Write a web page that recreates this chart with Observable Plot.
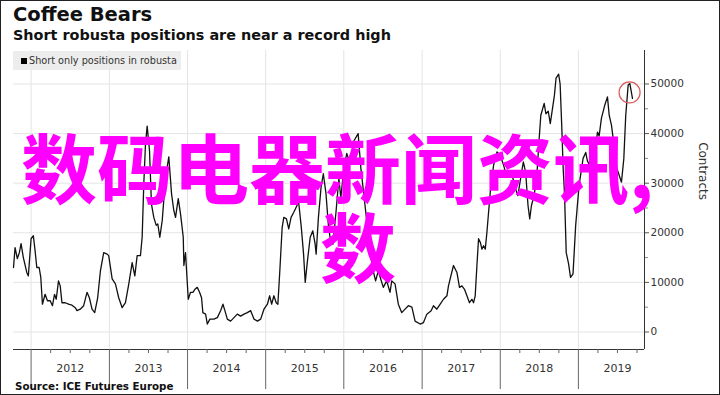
<!DOCTYPE html>
<html><head><meta charset="utf-8">
<script src="https://cdn.jsdelivr.net/npm/d3@7"></script>
<script src="https://cdn.jsdelivr.net/npm/@observablehq/plot@0.6"></script>
<style>
body{margin:0;background:#fff}
#wrap{position:relative;width:720px;height:395px;overflow:hidden;background:#fff;font-family:"DejaVu Sans",sans-serif}
#chart{position:absolute;left:0;top:0}
.title{position:absolute;left:13px;top:4px;font-weight:bold;font-size:19.5px;line-height:22px;color:#111;white-space:nowrap}
.subtitle{position:absolute;left:13px;top:27px;font-weight:bold;font-size:14.4px;line-height:17px;color:#111;white-space:nowrap}
.legend{position:absolute;left:13px;top:51px;width:168px;height:19px;background:rgba(236,236,236,0.92);font-size:9.7px;line-height:19px;color:#333;white-space:nowrap}
.legend .sw{display:inline-block;width:6px;height:6px;background:#000;margin:0 2px 0 8px;vertical-align:0px}
.source{position:absolute;left:15px;top:380px;font-weight:bold;font-size:10.3px;line-height:12px;color:#111;white-space:nowrap}
.wm{position:absolute;color:#ff00ff;font-family:"Noto Sans CJK SC",sans-serif;font-weight:700;font-size:76px;line-height:76px;white-space:nowrap}
.frame{position:absolute;left:0;top:0;width:718px;height:393px;border:1px solid #222;pointer-events:none}
</style>
</head><body>
<div id="wrap">
  <div id="chart"></div>
  <div class="title">Coffee Bears</div>
  <div class="subtitle">Short robusta positions are near a record high</div>
  <div class="legend"><span class="sw"></span>Short only positions in robusta</div>
  <div class="source">Source: ICE Futures Europe</div>
  <div class="wm" style="left:21px;top:127px">数码电器新闻资讯,</div>
  <div class="wm" style="left:320px;top:206px">数</div>
  <div class="frame"></div>
</div>
<script>
// decimal-year time stamps
const t = [
  2011.775, 2011.795, 2011.824, 2011.850, 2011.872, 2011.901, 2011.945, 2011.965,
  2012.000, 2012.029, 2012.051, 2012.073, 2012.103, 2012.124, 2012.145, 2012.179, 2012.209, 2012.244, 2012.273, 2012.299, 2012.321, 2012.350, 2012.372, 2012.394, 2012.436, 2012.478, 2012.522, 2012.564, 2012.586, 2012.628, 2012.671, 2012.714, 2012.744, 2012.778, 2012.812, 2012.850, 2012.885, 2012.927, 2012.971, 2012.991,
  2013.035, 2013.077, 2013.119, 2013.163, 2013.205, 2013.248, 2013.291, 2013.325, 2013.355, 2013.397, 2013.419, 2013.440, 2013.462, 2013.483, 2013.513, 2013.538, 2013.568, 2013.599, 2013.619, 2013.645, 2013.676, 2013.718, 2013.760, 2013.795, 2013.824, 2013.846, 2013.881, 2013.910, 2013.945, 2013.953, 2013.974,
  2014.009, 2014.038, 2014.068, 2014.094, 2014.124, 2014.154, 2014.179, 2014.196, 2014.231, 2014.253, 2014.286, 2014.337, 2014.381, 2014.423, 2014.453, 2014.478, 2014.509, 2014.551, 2014.594, 2014.637, 2014.679, 2014.722, 2014.765, 2014.808, 2014.850, 2014.894, 2014.936, 2014.978,
  2015.022, 2015.051, 2015.076, 2015.105, 2015.135, 2015.156, 2015.181, 2015.211, 2015.232, 2015.266, 2015.295, 2015.325, 2015.358, 2015.392, 2015.422, 2015.456, 2015.485, 2015.506, 2015.535, 2015.570, 2015.603, 2015.633, 2015.646, 2015.675, 2015.709, 2015.738, 2015.772, 2015.801, 2015.829, 2015.861, 2015.899, 2015.937, 2015.962,
  2016.000, 2016.038, 2016.077, 2016.128, 2016.183, 2016.218, 2016.269, 2016.333, 2016.376, 2016.406, 2016.440, 2016.504, 2016.547, 2016.590, 2016.612, 2016.654, 2016.696, 2016.740, 2016.782, 2016.824, 2016.869, 2016.910, 2016.974,
  2017.017, 2017.060, 2017.115, 2017.145, 2017.188, 2017.231, 2017.273, 2017.317, 2017.337, 2017.368, 2017.401, 2017.445, 2017.478, 2017.509, 2017.542, 2017.573, 2017.606, 2017.637, 2017.658, 2017.679, 2017.701, 2017.722, 2017.744, 2017.765, 2017.786, 2017.808, 2017.829, 2017.850, 2017.872, 2017.914, 2017.958,
  2018.000, 2018.043, 2018.078, 2018.108, 2018.152, 2018.195, 2018.225, 2018.260, 2018.295, 2018.325, 2018.355, 2018.377, 2018.399, 2018.433, 2018.468, 2018.498, 2018.519, 2018.562, 2018.584, 2018.614, 2018.640, 2018.692, 2018.714, 2018.747, 2018.766, 2018.788, 2018.805, 2018.822, 2018.844, 2018.874, 2018.899, 2018.931, 2018.965,
  2019.009, 2019.060, 2019.094, 2019.115, 2019.145, 2019.179, 2019.209, 2019.244, 2019.265, 2019.295, 2019.337, 2019.372, 2019.394, 2019.423, 2019.445, 2019.478, 2019.509, 2019.551, 2019.581, 2019.606, 2019.637, 2019.658, 2019.692
];
// short-only positions in robusta (contracts)
const shorts = [
  13000, 17000, 14800, 16000, 17800, 15000, 12000, 11300,
  18800, 19400, 16400, 13000, 13000, 11000, 5600, 7600, 6300, 6300, 5300, 7600, 6600, 10300, 9300, 5900, 5900, 5600, 5400, 4900, 4300, 4600, 5300, 8000, 6900, 4600, 3900, 6900, 12300, 16000, 15700, 15400,
  10700, 9700, 6900, 4900, 5900, 9700, 14000, 11300, 15400, 15400, 19100, 29900, 38000, 41500, 36600, 25800, 23100, 21500, 21800, 19100, 22500, 31200, 35300, 27900, 24500, 23100, 26900, 23800, 19100, 13400, 16000,
  6600, 8000, 8000, 8600, 9000, 8000, 6900, 3900, 3600, 1600, 2600, 2600, 2900, 4300, 5600, 4300, 2600, 2200, 2900, 3600, 3200, 3600, 3900, 4300, 2600, 2200, 2600, 4600,
  5600, 7300, 5600, 7300, 5900, 5600, 12300, 21100, 23100, 22800, 20800, 23100, 24100, 25200, 26200, 21100, 15700, 10000, 14400, 19100, 20400, 17700, 15700, 23100, 29200, 31900, 27900, 21800, 18500, 17700, 24000, 31000, 27000,
  33000, 36000, 34000, 38500, 40000, 33000, 25800, 16400, 12300, 10300, 12300, 9000, 10300, 8000, 10300, 9700, 5600, 3900, 4600, 5300, 5000, 2200, 1600,
  1900, 3600, 4300, 5300, 4600, 5600, 6600, 7300, 9300, 11300, 13400, 12000, 9000, 9300, 8600, 7300, 5900, 6600, 5900, 7300, 13400, 18800, 18100, 16700, 17400, 16700, 20100, 24100, 28200, 33600, 36300,
  35600, 33600, 31600, 32200, 31600, 28900, 27500, 30900, 34300, 32200, 25500, 22800, 25500, 27500, 31600, 39000, 43700, 46100, 44000, 44500, 42000, 47600, 51200, 52000, 50000, 41000, 33000, 27900, 16000, 13800, 11000, 11700, 21500,
  29600, 35000, 36200, 34500, 33600, 36500, 35600, 40300, 39500, 43100, 45700, 47400, 43700, 41700, 39000, 33600, 32200, 30200, 34900, 43700, 49800, 50100, 47100
];
const years = [2012, 2013, 2014, 2015, 2016, 2017, 2018, 2019];
const yTicks = [0, 10000, 20000, 30000, 40000, 50000];
const yMinorTicks = [5000, 15000, 25000, 35000, 45000];
const highlightT = [2019.655];
const highlightV = [48300];
const xExtent = [2011.775, 2019.846];
const yExtent = [-3530, 56750];

const toDate = d => {
  const y = Math.floor(d), s = Date.UTC(y, 0, 1), e = Date.UTC(y + 1, 0, 1);
  return new Date(s + (d - y) * (e - s));
};
const data = t.map((d, i) => ({date: toDate(d), value: shorts[i]}));
const hl = highlightT.map((d, i) => ({date: toDate(d), value: highlightV[i]}));
const yearStarts = years.map(y => toDate(y));
const yearMids = years.map(y => toDate(y + 0.5));
const quarters = years.flatMap(y => [0.25, 0.5, 0.75].map(q => toDate(y + q)));
const xDomain = xExtent.map(toDate);

const chart = Plot.plot({
  width: 720,
  height: 395,
  marginTop: 50,
  marginBottom: 46,
  marginLeft: 13,
  marginRight: 76,
  style: {fontFamily: "DejaVu Sans, sans-serif", background: "transparent"},
  x: {type: "utc", domain: xDomain},
  y: {domain: yExtent},
  marks: [
    Plot.gridY(yTicks, {stroke: "#e4e4e4", strokeOpacity: 1, strokeWidth: 1}),
    Plot.gridX(yearStarts, {stroke: "#e4e4e4", strokeOpacity: 1, strokeWidth: 1}),
    Plot.ruleY([yExtent[0]], {stroke: "#333", strokeWidth: 1}),
    Plot.ruleX([xDomain[1]], {stroke: "#333", strokeWidth: 1}),
    Plot.line(data, {x: "date", y: "value", stroke: "#111", strokeWidth: 1.3}),
    Plot.dot(hl, {x: "date", y: "value", r: 10.5, stroke: "#dd5c5c", strokeWidth: 1.2, fill: "none"}),
    Plot.axisY({anchor: "right", ticks: yTicks, tickSize: 4, tickPadding: 2, tickFormat: d3.format("d"), label: null, fontSize: 10.5, color: "#333", stroke: "#555"}),
    Plot.axisY({anchor: "right", ticks: yMinorTicks, tickSize: 3, tickFormat: () => "", label: null, stroke: "#888"}),
    Plot.axisX({ticks: yearStarts, tickSize: 40, tickFormat: () => "", label: null, stroke: "#666"}),
    Plot.axisX({ticks: quarters, tickSize: 4, tickFormat: () => "", label: null, stroke: "#666"}),
    Plot.axisX({ticks: yearMids, tickSize: 0, tickPadding: 15, tickFormat: d3.utcFormat("%Y"), label: null, fontSize: 11, color: "#333"}),
    Plot.text(["Contracts"], {frameAnchor: "right", rotate: 90, dx: 58, fontSize: 12, fill: "#333"})
  ]
});
document.getElementById("chart").appendChild(chart);
</script>
</body></html>
